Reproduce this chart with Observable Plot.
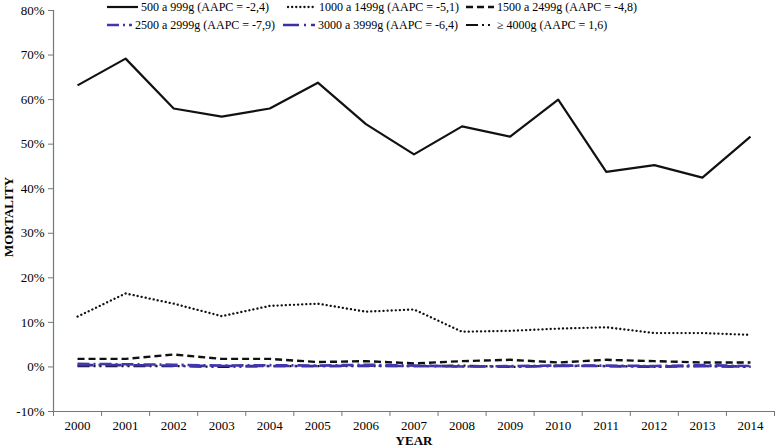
<!DOCTYPE html>
<html>
<head>
<meta charset="utf-8">
<script src="https://cdn.jsdelivr.net/npm/d3@7"></script>
<script src="https://cdn.jsdelivr.net/npm/@observablehq/plot@0.6"></script>
<style>
  html, body { margin: 0; padding: 0; background: #fff; }
  #wrap { position: relative; width: 779px; height: 448px; font-family: "Liberation Serif", "Times New Roman", serif; }
  #legend { position: absolute; left: 0; top: 0; width: 779px; height: 40px; font-size: 12px; color: #000; }
  .item { position: absolute; display: flex; align-items: center; white-space: nowrap; height: 14px; line-height: 14px; }
  .item svg { display: block; margin-right: 2px; }
</style>
</head>
<body>
<div id="wrap"><div id="legend"></div></div>
<script>
const years = [2000, 2001, 2002, 2003, 2004, 2005, 2006, 2007, 2008, 2009, 2010, 2011, 2012, 2013, 2014];

const seriesNames = [
  "500 a 999g (AAPC = -2,4)",
  "1000 a 1499g (AAPC = -5,1)",
  "1500 a 2499g (AAPC = -4,8)",
  "2500 a 2999g (AAPC = -7,9)",
  "3000 a 3999g (AAPC = -6,4)",
  "≥ 4000g (AAPC = 1,6)"
];

const w500  = [63.2, 69.2, 58.0, 56.2, 58.0, 63.8, 54.5, 47.7, 54.0, 51.7, 60.0, 43.8, 45.3, 42.5, 51.7];
const w1000 = [11.3, 16.5, 14.2, 11.4, 13.7, 14.2, 12.4, 12.9, 7.9, 8.1, 8.6, 8.9, 7.6, 7.6, 7.2];
const w1500 = [1.8, 1.8, 2.8, 1.8, 1.8, 1.1, 1.3, 0.8, 1.3, 1.6, 1.0, 1.6, 1.3, 1.0, 1.0];
const w2500 = [0.7, 0.6, 0.5, 0.3, 0.4, 0.3, 0.5, 0.3, 0.1, 0.2, 0.3, 0.3, 0.2, 0.4, 0.2];
const w3000 = [0.4, 0.4, 0.3, 0.2, 0.2, 0.2, 0.3, 0.2, 0.1, 0.1, 0.2, 0.2, 0.1, 0.2, 0.1];
const w4000 = [0.2, 0.2, 0.2, 0.0, 0.2, 0.2, 0.2, 0.2, 0.3, 0.0, 0.3, 0.2, 0.0, 0.2, 0.0];

const yTicks = [-0.1, 0, 0.1, 0.2, 0.3, 0.4, 0.5, 0.6, 0.7, 0.8];

const seriesValues = [w500, w1000, w1500, w2500, w3000, w4000];
const blue = "#4536b0";
const styles = [
  {stroke: "#111", dash: null, width: 2.2, cap: "butt"},
  {stroke: "#111", dash: "0.1,4", width: 2.3, cap: "round"},
  {stroke: "#111", dash: "7,4", width: 2.4, cap: "butt"},
  {stroke: blue, dash: "12,4,2,4", width: 2.6, cap: "butt"},
  {stroke: "#3a30a0", dash: "16,5,2,5", width: 2.6, cap: "butt"},
  {stroke: "#111", dash: "12,4,2,4,2,4", width: 2.2, cap: "butt"}
];

const data = [];
seriesValues.forEach((vals, i) => vals.forEach((v, j) => data.push({series: i, year: years[j], value: v / 100})));

const boundaries = years.map(y => y - 0.5).concat([years[years.length - 1] + 0.5]);
const font = "Liberation Serif, Times New Roman, serif";
const axisColor = "#6e7a7e";

const marks = [];
for (let i = seriesValues.length - 1; i >= 0; i--) {
  const s = styles[i];
  marks.push(Plot.line(data.filter(d => d.series === i), {
    x: "year", y: "value", stroke: s.stroke, strokeWidth: s.width,
    strokeDasharray: s.dash, strokeLinecap: s.cap, strokeLinejoin: "round"
  }));
}

const chart = Plot.plot({
  width: 779,
  height: 448,
  marginLeft: 53,
  marginRight: 5,
  marginTop: 10,
  marginBottom: 37,
  style: {fontFamily: font, fontSize: "13px", color: "#000", background: "#fff"},
  x: {type: "linear", domain: [boundaries[0], boundaries[boundaries.length - 1]]},
  y: {domain: [-0.1, 0.8]},
  marks: [
    Plot.axisY({ticks: yTicks, tickFormat: d => Math.round(d * 100) + "%", tickSize: 5, tickPadding: 4, stroke: axisColor, label: null, fontSize: 13}),
    Plot.ruleX([boundaries[0]], {stroke: axisColor, strokeWidth: 1.2}),
    Plot.text(["MORTALITY"], {frameAnchor: "left", textAnchor: "middle", lineAnchor: "middle", dx: -45, dy: 6, rotate: -90, fontWeight: "bold", fontSize: 13, fill: "#000"}),
    Plot.axisX({ticks: boundaries, tickFormat: () => "", tickSize: 5, stroke: axisColor, label: null}),
    Plot.axisX({ticks: years, tickFormat: d => String(d), tickSize: 0, tickPadding: 9, label: null, fontSize: 13}),
    Plot.ruleY([-0.1], {stroke: axisColor, strokeWidth: 1.2}),
    Plot.text(["YEAR"], {frameAnchor: "bottom", textAnchor: "middle", lineAnchor: "middle", dy: 29, fontWeight: "bold", fontSize: 13, fill: "#000"}),
    ...marks
  ]
});

document.getElementById("wrap").prepend(chart);

const legend = document.getElementById("legend");
const legendPos = [
  {left: 106, top: 0, sw: 33},
  {left: 287, top: 0, sw: 30},
  {left: 465, top: 0, sw: 30},
  {left: 106, top: 18, sw: 27},
  {left: 282, top: 18, sw: 34},
  {left: 465, top: 18, sw: 30}
];
seriesNames.forEach((name, i) => {
  const s = styles[i];
  const p = legendPos[i];
  const div = document.createElement("div");
  div.className = "item";
  div.style.left = p.left + "px";
  div.style.top = p.top + "px";
  const ns = "http://www.w3.org/2000/svg";
  const svg = document.createElementNS(ns, "svg");
  svg.setAttribute("width", p.sw);
  svg.setAttribute("height", 10);
  const ln = document.createElementNS(ns, "line");
  ln.setAttribute("x1", 1); ln.setAttribute("x2", p.sw - 1);
  ln.setAttribute("y1", 5); ln.setAttribute("y2", 5);
  ln.setAttribute("stroke", s.stroke);
  ln.setAttribute("stroke-width", s.width);
  ln.setAttribute("stroke-linecap", s.cap);
  if (s.dash) ln.setAttribute("stroke-dasharray", s.dash);
  svg.appendChild(ln);
  div.appendChild(svg);
  const span = document.createElement("span");
  span.textContent = name;
  div.appendChild(span);
  legend.appendChild(div);
});
</script>
</body>
</html>
